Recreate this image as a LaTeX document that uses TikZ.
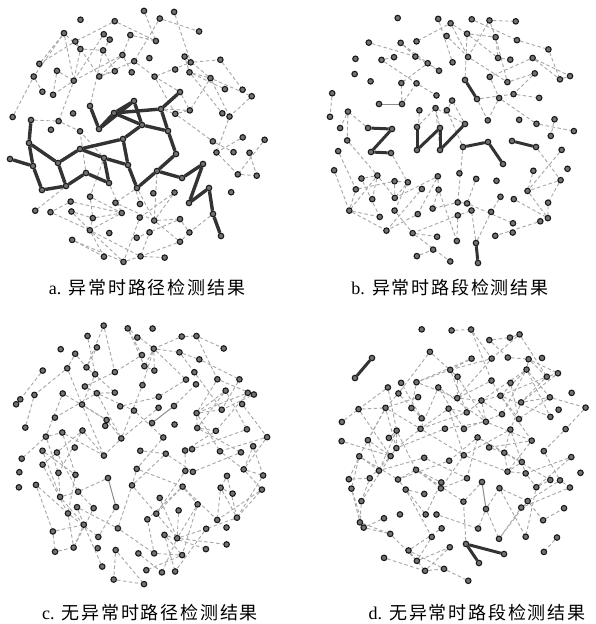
\documentclass[tikz,border=0pt]{standalone}
\usepackage{fontspec}
\setmainfont{Liberation Serif}
\newfontfamily\cjk[LetterSpace=10]{Noto Sans CJK SC}
\usetikzlibrary{positioning}
\pgfdeclarelayer{bg}
\pgfsetlayers{bg,main}

\tikzset{
  vertex/.style={circle, draw=black!90, fill=black!55, line width=1.1pt, inner sep=0pt, minimum size=5.5pt},
  trace/.style={draw=black!35, dash pattern=on 3.5pt off 2.5pt, line width=0.9pt},
  alarm/.style={draw=black!80, line width=3.4pt},
  faint/.style={draw=black!45, line width=1pt},
  tag/.style={font=\fontsize{18}{20}\selectfont, inner sep=0pt}
}

% filler nodes on a jittered grid, kept clear of the fixed ones
\newcommand\scatter[6]{%
  \pgfmathsetseed{#5}%
  \foreach \i in {0,...,14}{%
    \foreach \j in {0,...,14}{%
      \pgfmathsetmacro\gx{#2+(\i-7)*20+8*rand}%
      \pgfmathsetmacro\gy{#3+(\j-7)*20+8*rand}%
      \pgfmathtruncatemacro\keep{and(veclen(\gx-#2,\gy-#3)<#4, rnd>0.08)}%
      \xdef\keepflag{\keep}%
      \ifnum\keep=1
        \foreach \nm/\fx/\fy in #6{%
          \pgfmathtruncatemacro\near{veclen(\gx-\fx,\gy-\fy)<15}%
          \ifnum\near=1 \gdef\keepflag{0}\fi
        }%
      \fi
      \ifnum\keepflag=1
        \node[vertex] (#1-\i-\j) at (\gx,\gy) {};
        \expandafter\gdef\csname ok#1-\i-\j\endcsname{}%
      \fi
    }%
  }%
  \begin{pgfonlayer}{bg}
  \foreach \i in {0,...,14}{%
    \foreach \j in {0,...,14}{%
      \ifcsname ok#1-\i-\j\endcsname
        \foreach \di/\dj in {1/0,0/1,1/1,-1/1,2/1,1/2,-1/2,-2/1}{%
          \pgfmathtruncatemacro\ui{\i+\di}%
          \pgfmathtruncatemacro\uj{\j+\dj}%
          \ifcsname ok#1-\ui-\uj\endcsname
            \pgfmathtruncatemacro\pick{rnd<0.22}%
            \ifnum\pick=1 \draw[trace] (#1-\i-\j) -- (#1-\ui-\uj);\fi
          \fi
        }%
      \fi
    }%
  }%
  % dashed hooks from the fixed nodes
  \foreach \nm/\fx/\fy in #6{%
    \pgfmathtruncatemacro\ci{round((\fx-#2)/20)+7}%
    \pgfmathtruncatemacro\cj{round((\fy-#3)/20)+7}%
    \foreach \di/\dj in {1/0,-1/0,0/1,0/-1,1/1,-1/-1,1/-1,-1/1,2/0,-2/0,0/2,0/-2}{%
      \pgfmathtruncatemacro\ui{\ci+\di}%
      \pgfmathtruncatemacro\uj{\cj+\dj}%
      \ifcsname ok#1-\ui-\uj\endcsname
        \pgfmathtruncatemacro\pick{rnd<0.15}%
        \ifnum\pick=1 \draw[trace] (\nm) -- (#1-\ui-\uj);\fi
      \fi
    }%
  }%
  \end{pgfonlayer}
}

% fixed nodes of each panel: name/x/y
\def\fixA{a1/180/92,a2/161/109,a3/114/113,a4/134/101,a5/142/125,a6/99/129,a7/90/106,a8/168/131,a9/176/154,a10/157/171,a11/182/178,a12/203/164,a13/189/203,a14/209/188,a15/213/214,a16/221/236,a17/123/139,a18/128/165,a19/137/188,a20/80/149,a21/104/158,a22/109/183,a23/86/173,a24/66/186,a25/58/163,a26/29/143,a27/31/120,a28/33/166,a29/42/190,a30/10/159}
\def\fixB{b1/465/80,b2/477/99,b3/368/128,b4/392/129,b5/371/152,b6/391/153,b7/417/127,b8/417/150,b9/440/128,b10/440/150,b11/465/124,b12/463/147,b13/488/142,b14/503/164,b15/512/141,b16/536/147,b17/476/243,b18/478/263,b19/379/104,b20/402/104}
\def\fixC{c1/152/423,c2/174/406,c3/108/478,c4/116/507}
\def\fixD{d1/372/358,d2/355/378,d3/466/544,d4/504/554,d5/479/563,d6/482/482,d7/486/509}

\begin{document}
\begin{tikzpicture}[x=1pt, y=-1pt]
  \begin{pgfonlayer}{bg}
    \fill[white] (0,0) rectangle (596,624);
  \end{pgfonlayer}
  \useasboundingbox (0,0) rectangle (596,624);

  % fixed nodes
  \foreach \nm/\fx/\fy in \fixA {\node[vertex] (\nm) at (\fx,\fy) {};}
  \foreach \nm/\fx/\fy in \fixB {\node[vertex] (\nm) at (\fx,\fy) {};}
  \foreach \nm/\fx/\fy in \fixC {\node[vertex] (\nm) at (\fx,\fy) {};}
  \foreach \nm/\fx/\fy in \fixD {\node[vertex] (\nm) at (\fx,\fy) {};}

  % the four node clouds
  \scatter{a}{137}{136}{130}{41}{\fixA}
  \scatter{b}{454}{136}{131}{7}{\fixB}
  \scatter{c}{140}{452}{134}{23}{\fixC}
  \scatter{d}{464}{455}{133}{58}{\fixD}

  % detected paths and segments
  \begin{pgfonlayer}{bg}
    \foreach \u/\v in {a1/a2,a2/a3,a2/a8,a8/a9,a9/a10,a10/a19,a19/a18,a18/a17,a17/a5,a5/a4,a4/a3,a3/a6,a4/a6,a6/a7,a3/a5,a5/a8,a10/a11,a11/a12,a12/a13,a13/a14,a14/a15,a15/a16,a17/a20,a20/a21,a21/a18,a21/a22,a22/a23,a23/a24,a24/a25,a25/a20,a25/a26,a26/a27,a26/a28,a28/a30,a28/a29,a29/a24}
      \draw[alarm] (\u) -- (\v);
    \foreach \u/\v in {b1/b2,b3/b4,b4/b5,b5/b6,b7/b8,b8/b9,b9/b10,b10/b11,b12/b13,b13/b14,b15/b16,b17/b18,d1/d2,d3/d4,d3/d5}
      \draw[alarm, line width=3pt] (\u) -- (\v);
    \foreach \u/\v in {b19/b20,c1/c2,c3/c4,d6/d7}
      \draw[faint] (\u) -- (\v);
  \end{pgfonlayer}

  % captions
  \node[tag] (capA) at (147,288) {a.\hspace{0.4em}{\cjk 异常时路径检测结果}};
  \node[tag] (capB) at (450,288) {b.\hspace{0.4em}{\cjk 异常时路段检测结果}};
  \node[tag] (capC) at (150,613) {c.\hspace{0.4em}{\cjk 无异常时路径检测结果}};
  \node[tag] (capD) at (477,613) {d.\hspace{0.4em}{\cjk 无异常时路段检测结果}};
\end{tikzpicture}
\end{document}
